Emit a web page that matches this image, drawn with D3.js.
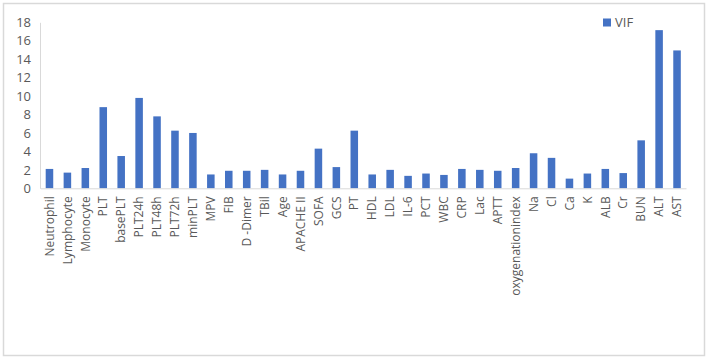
<!DOCTYPE html>
<html>
<head>
<meta charset="utf-8">
<script src="https://cdn.jsdelivr.net/npm/d3@7"></script>
<style>
    body { margin: 0; background: #fff; }
    svg text { font-family: "Open Sans", sans-serif; fill: #595959; }
</style>
</head>
<body>
<svg id="chart" width="708" height="360"></svg>
<script>
// Values
var categories = ['Neutrophil', 'Lymphocyte', 'Monocyte', 'PLT', 'basePLT', 'PLT24h', 'PLT48h',
    'PLT72h', 'minPLT', 'MPV', 'FIB', 'D -Dimer', 'TBil', 'Age', 'APACHE II', 'SOFA', 'GCS', 'PT',
    'HDL', 'LDL', 'IL-6', 'PCT', 'WBC', 'CRP', 'Lac', 'APTT', 'oxygenationindex', 'Na', 'Cl', 'Ca',
    'K', 'ALB', 'Cr', 'BUN', 'ALT', 'AST'];
var vif = [2.1, 1.7, 2.2, 8.8, 3.5, 9.8, 7.8, 6.25, 6.0, 1.5, 1.9, 1.9, 2.0, 1.5, 1.9, 4.3, 2.3, 6.25,
    1.5, 2.0, 1.35, 1.6, 1.45, 2.1, 2.0, 1.9, 2.2, 3.8, 3.3, 1.05, 1.6, 2.1, 1.65, 5.2, 17.15, 14.95];
var yTicks = [0, 2, 4, 6, 8, 10, 12, 14, 16, 18];
var seriesName = 'VIF';

var svg = d3.select('svg#chart');
var barColor = '#4472C4';

// outer frame
svg.append('rect')
    .attr('x', 3.5).attr('y', 3.5)
    .attr('width', 701).attr('height', 352)
    .attr('fill', 'none')
    .attr('stroke', '#d9d9d9')
    .attr('stroke-width', 1.5);

var x = d3.scaleBand()
    .domain(categories)
    .range([40.5, 686])
    .paddingInner(0.58)
    .paddingOuter(0.29);

var y = d3.scaleLinear()
    .domain([0, 18])
    .range([188.3, 22.3]);

// y axis labels
var yAxis = d3.axisLeft(y)
    .tickValues(yTicks)
    .tickSize(0)
    .tickPadding(9);

svg.append('g')
    .attr('transform', 'translate(40,0)')
    .call(yAxis)
    .call(function(g) {
        g.select('.domain').attr('stroke', '#d9d9d9');
        g.selectAll('text')
            .style('font-size', '13px')
            .attr('fill', '#595959');
    });

// bars
svg.append('g')
    .selectAll('rect')
    .data(vif)
    .join('rect')
    .attr('x', function(d, i) {
        return x(categories[i]);
    })
    .attr('y', function(d) {
        return y(d);
    })
    .attr('width', x.bandwidth())
    .attr('height', function(d) {
        return y(0) - y(d);
    })
    .attr('fill', barColor);

// x axis
var xAxis = d3.axisBottom(x)
    .tickSize(0)
    .tickPadding(0);

svg.append('g')
    .attr('transform', 'translate(0,' + y(0) + ')')
    .call(xAxis)
    .call(function(g) {
        g.select('.domain').attr('stroke', '#d9d9d9');
        g.selectAll('text')
            .style('font-size', '12px')
            .attr('fill', '#595959')
            .attr('text-anchor', 'end')
            .attr('dy', '0.35em')
            .attr('transform', 'translate(0,8) rotate(-90)')
            .attr('x', 0)
            .attr('y', 0);
    });

// legend
var legend = svg.append('g')
    .attr('transform', 'translate(603,18.5)');

legend.append('rect')
    .attr('width', 8)
    .attr('height', 8)
    .attr('fill', barColor);

legend.append('text')
    .attr('x', 12)
    .attr('y', 4)
    .attr('dy', '0.35em')
    .style('font-size', '13px')
    .text(seriesName);
</script>
</body>
</html>
